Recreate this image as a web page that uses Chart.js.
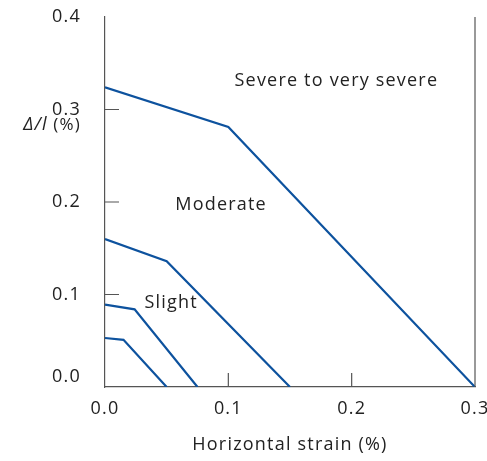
<!DOCTYPE html>
<html>
<head>
<meta charset="utf-8">
<script src="https://cdn.jsdelivr.net/npm/chart.js@4"></script>
<style>
  html, body { margin: 0; padding: 0; background: #fff; }
  #wrap { width: 487px; height: 461px; }
</style>
</head>
<body>
<div id="wrap"><canvas id="chart"></canvas></div>
<script>
// damage category boundaries: horizontal strain (%) vs deflection ratio (%)
const strainSlight0 = [0.0, 0.015, 0.05];
const ratioSlight0 = [0.053, 0.051, 0.0];
const strainSlight = [0.0, 0.024, 0.075];
const ratioSlight = [0.089, 0.084, 0.0];
const strainModerate = [0.0, 0.05, 0.15];
const ratioModerate = [0.160, 0.136, 0.0];
const strainSevere = [0.0, 0.1, 0.3];
const ratioSevere = [0.324, 0.281, 0.0];

const xTicks = [0.0, 0.1, 0.2, 0.3];
const yTicks = [0.0, 0.1, 0.2, 0.3, 0.4];

const regionLabels = ['Severe to very severe', 'Moderate', 'Slight'];
const regionX = [0.105, 0.057, 0.032];
const regionY = [0.331, 0.197, 0.091];

const FONT = '"Open Sans", sans-serif';
const lineColor = '#0d529e';
const axisColor = '#555';
const textColor = '#222';

function toPoints(xs, ys) {
    return xs.map((x, i) => ({ x: x, y: ys[i] }));
}

function series(xs, ys) {
    return {
        data: toPoints(xs, ys),
        showLine: true,
        borderColor: lineColor,
        borderWidth: 2.2,
        pointRadius: 0,
        fill: false
    };
}

function noScalePadding(s) {
    s.paddingTop = 0;
    s.paddingBottom = 0;
    s.paddingLeft = 0;
    s.paddingRight = 0;
}

const decorPlugin = {
    id: 'decor',
    beforeDraw(chart) {
        // wider text, closer to the original typeface
        chart.ctx.letterSpacing = '1.2px';
    },
    afterDraw(chart) {
        const ctx = chart.ctx;
        const xs = chart.scales.x;
        const ys = chart.scales.y;
        const area = chart.chartArea;
        ctx.save();

        // right border
        ctx.strokeStyle = axisColor;
        ctx.lineWidth = 1.2;
        ctx.beginPath();
        ctx.moveTo(area.right, area.top);
        ctx.lineTo(area.right, area.bottom);
        ctx.stroke();

        // inward ticks
        ctx.beginPath();
        [0.1, 0.2, 0.3].forEach(v => {
            const py = ys.getPixelForValue(v);
            ctx.moveTo(area.left, py);
            ctx.lineTo(area.left + 14, py);
        });
        [0.1, 0.2].forEach(v => {
            const px = xs.getPixelForValue(v);
            ctx.moveTo(px, area.bottom);
            ctx.lineTo(px, area.bottom - 14);
        });
        ctx.stroke();

        ctx.fillStyle = textColor;
        ctx.textBaseline = 'middle';

        // y zero label sits a little above the axis
        ctx.font = '18px ' + FONT;
        ctx.textAlign = 'right';
        ctx.fillText('0.0', area.left - 24, ys.getPixelForValue(0) - 10);

        // region labels
        ctx.textAlign = 'left';
        regionLabels.forEach((t, i) => {
            ctx.fillText(t, xs.getPixelForValue(regionX[i]), ys.getPixelForValue(regionY[i]));
        });

        // y axis title, horizontal
        const ty = ys.getPixelForValue(0.283);
        ctx.textAlign = 'right';
        ctx.font = '17px ' + FONT;
        const pctW = ctx.measureText(' (%)').width;
        ctx.fillText(' (%)', 81, ty);
        ctx.font = 'italic 18px ' + FONT;
        ctx.fillText('\u0394/l', 81 - pctW, ty);

        ctx.restore();
    }
};

new Chart(document.getElementById('chart'), {
    type: 'scatter',
    data: {
        datasets: [
            series(strainSlight0, ratioSlight0),
            series(strainSlight, ratioSlight),
            series(strainModerate, ratioModerate),
            series(strainSevere, ratioSevere)
        ]
    },
    options: {
        responsive: true,
        maintainAspectRatio: false,
        animation: false,
        layout: { padding: { top: 17, right: 12, left: 0, bottom: 0 } },
        plugins: {
            legend: { display: false },
            tooltip: { enabled: false }
        },
        scales: {
            x: {
                type: 'linear',
                min: 0,
                max: 0.3,
                afterBuildTicks: s => { s.ticks = xTicks.map(v => ({ value: v })); },
                afterFit: s => { s.height = 74; noScalePadding(s); },
                grid: { display: false, drawTicks: false },
                border: { color: axisColor, width: 1.2 },
                ticks: {
                    padding: 11,
                    color: textColor,
                    font: { family: FONT, size: 18 },
                    callback: v => v.toFixed(1)
                },
                title: {
                    display: true,
                    text: 'Horizontal strain (%)',
                    color: textColor,
                    font: { family: FONT, size: 18 },
                    padding: { top: 4, bottom: 5 }
                }
            },
            y: {
                type: 'linear',
                min: 0,
                max: 0.4,
                afterBuildTicks: s => { s.ticks = yTicks.map(v => ({ value: v })); },
                afterFit: s => { s.width = 105; noScalePadding(s); },
                grid: { display: false, drawTicks: false },
                border: { color: axisColor, width: 1.2 },
                ticks: {
                    padding: 24,
                    color: textColor,
                    font: { family: FONT, size: 18 },
                    callback: v => (v === 0 ? '' : v.toFixed(1))
                }
            }
        }
    },
    plugins: [decorPlugin]
});
</script>
</body>
</html>
